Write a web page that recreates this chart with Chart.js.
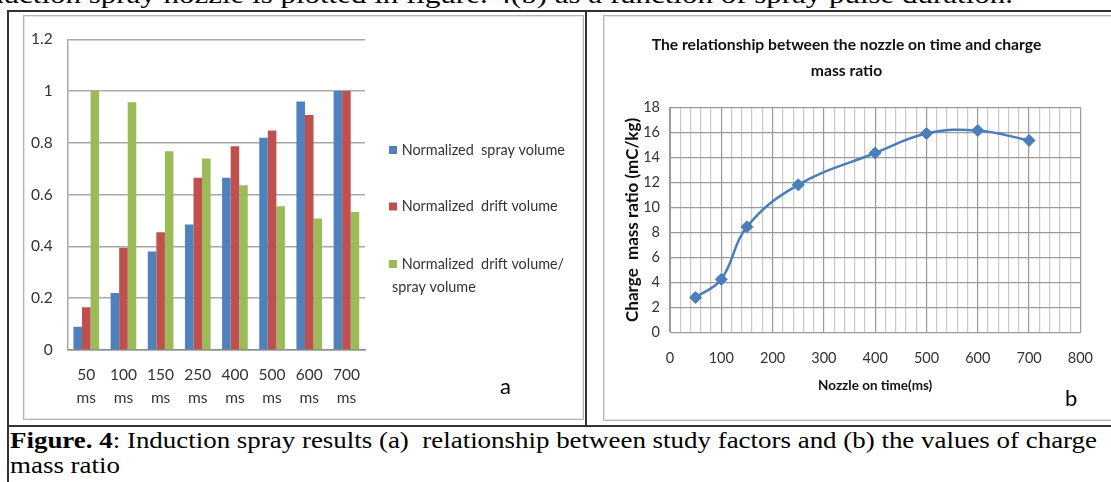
<!DOCTYPE html>
<html>
<head>
<meta charset="utf-8">
<script src="https://cdn.jsdelivr.net/npm/chart.js@4.4.1/dist/chart.umd.min.js"></script>
<style>
  html, body { margin: 0; padding: 0; background: #fff; }
  body { width: 1111px; height: 482px; position: relative; overflow: hidden; }
  .abs { position: absolute; }
  .serif { font-family: 'Liberation Serif', 'Times New Roman', serif; color: #000; white-space: nowrap; transform-origin: 0 0; }
  .box { position: absolute; border: 1px solid #b4b4b4; box-shadow: inset 0 0 0 1px #e6e6e6; background: #fff; }
  .hline { position: absolute; height: 2px; background: #333; }
  .vline { position: absolute; width: 2px; background: #333; }
  .panel { position: absolute; font-family: Lato, 'Open Sans', sans-serif; font-size: 22px; color: #000; }
</style>
</head>
<body>
<!-- running text above the figure (cut off at the top) -->
<div id="topText" class="abs serif" style="left:-36px; top:-18px; font-size:26px; line-height:26px;">induction spray nozzle is plotted in figure. 4(b) as a function of spray pulse duration.</div>

<!-- table frame -->
<div class="hline" style="left:8px; top:10px; width:1103px;"></div>
<div class="hline" style="left:8px; top:425px; width:1103px;"></div>
<div class="vline" style="left:7px; top:10px; height:472px;"></div>
<div class="vline" style="left:585px; top:10px; height:416px;"></div>

<!-- chart boxes -->
<div class="box" style="left:23px; top:15px; width:559px; height:403px;"></div>
<div class="box" style="left:603px; top:15px; width:510px; height:404px;"></div>

<canvas id="chartA" class="abs" width="560" height="404" style="left:23px; top:15px;"></canvas>
<canvas id="chartB" class="abs" width="507" height="405" style="left:603px; top:15px;"></canvas>

<div class="panel" style="left:500px; top:372px;">a</div>
<div class="panel" style="left:1065px; top:384px;">b</div>

<!-- caption -->
<div id="cap1" class="abs serif" style="left:10px; top:428px; font-size:23px; line-height:26px;"><b>Figure. 4</b>: Induction spray results (a)&nbsp; relationship between study factors and (b) the values of charge</div>
<div id="cap2" class="abs serif" style="left:10px; top:453px; font-size:23px; line-height:26px;">mass ratio</div>

<script>
// ---------------- data: chart (a) ----------------
const categories = ['50 ms', '100 ms', '150 ms', '250 ms', '400 ms', '500 ms', '600 ms', '700 ms'];
const sprayVolume = [0.09, 0.22, 0.38, 0.485, 0.665, 0.82, 0.96, 1.0];
const driftVolume = [0.165, 0.395, 0.455, 0.665, 0.787, 0.848, 0.908, 1.0];
const driftPerSpray = [1.0, 0.957, 0.768, 0.74, 0.636, 0.555, 0.508, 0.533];
const seriesNames = ['Normalized  spray volume', 'Normalized  drift volume', 'Normalized  drift volume/ spray volume'];
const yTicksA = [0, 0.2, 0.4, 0.6, 0.8, 1, 1.2];

// ---------------- data: chart (b) ----------------
const nozzleOnTime = [50, 100, 150, 250, 400, 500, 600, 700];
const chargeMassRatio = [2.8, 4.25, 8.45, 11.8, 14.35, 15.9, 16.15, 15.35];
const titleB = ['The relationship between the nozzle on time and charge', 'mass ratio'];
const xTitleB = 'Nozzle on time(ms)';
const yTitleB = 'Charge  mass ratio (mC/kg)';

const FONT = "Lato, 'Open Sans', sans-serif";
const colors = ['#4F81BD', '#C0504D', '#9BBB59'];

// font size that makes a text reach a target width
const mctx = document.createElement('canvas').getContext('2d');
function sizeFor(text, target, weight) {
  mctx.font = (weight || 'normal') + ' 100px ' + FONT;
  return Math.round(100 * target / mctx.measureText(text).width * 10) / 10;
}
const legendSize = sizeFor('Normalized  spray volume', 163);
const tickSizeA = 15.5;
const tickSizeB = 14.5;
const titleSizeB = sizeFor(titleB[0], 390, 'bold');
const xTitleSize = sizeFor(xTitleB, 114, 'bold');
const yTitleSize = sizeFor(yTitleB, 204, 'bold');

// fit HTML text lines to measured widths
function fitWidth(id, target, scaleFrom) {
  const el = document.getElementById(id);
  const w = el.getBoundingClientRect().width;
  const s = scaleFrom || target / w;
  el.style.transform = 'scaleX(' + s + ')';
  return s;
}
const capScale = fitWidth('cap1', 1087);
fitWidth('cap2', 0, capScale);
fitWidth('topText', 1049);

// ---------- custom legend for chart (a) ----------
const legendA = {
  id: 'legendA',
  afterDraw(chart) {
    const ctx = chart.ctx;
    const rows = [135, 191.5, 249];
    ctx.save();
    ctx.font = legendSize + 'px ' + FONT;
    ctx.textBaseline = 'middle';
    chart.data.datasets.forEach((ds, i) => {
      const y = rows[i];
      ctx.fillStyle = ds.backgroundColor;
      ctx.fillRect(366, y - 4, 8, 8);
      ctx.fillStyle = '#333333';
      const lines = ds.label.split('/ ').map((l, k, a) => k < a.length - 1 ? l + '/' : l);
      lines.forEach((l, k) => ctx.fillText(l, k === 0 ? 378.7 : 369, y + k * 23));
    });
    ctx.restore();
  }
};

new Chart(document.getElementById('chartA'), {
  type: 'bar',
  data: {
    labels: categories,
    datasets: [
      { label: seriesNames[0], data: sprayVolume, backgroundColor: colors[0] },
      { label: seriesNames[1], data: driftVolume, backgroundColor: colors[1] },
      { label: seriesNames[2], data: driftPerSpray, backgroundColor: colors[2] }
    ]
  },
  options: {
    responsive: false,
    animation: false,
    layout: { padding: { left: 0, top: 19.3, right: 218, bottom: 0 } },
    datasets: { bar: { categoryPercentage: 0.69, barPercentage: 1.0 } },
    plugins: { legend: { display: false }, tooltip: { enabled: false } },
    scales: {
      x: {
        grid: { display: false, drawTicks: false },
        border: { display: true, color: '#8c8c8c', width: 1.5 },
        ticks: {
          color: '#333333', padding: 13.5, autoSkip: false, maxRotation: 0,
          font: { family: FONT, size: tickSizeA, lineHeight: 23 / tickSizeA },
          callback: function (v, i) { return categories[i].split(' '); }
        },
        afterFit(s) { s.height = 69; }
      },
      y: {
        min: 0, max: 1.2,
        afterBuildTicks(s) { s.ticks = yTicksA.map(v => ({ value: v })); },
        grid: { color: '#a8a8a8', lineWidth: 1.5, drawTicks: false },
        border: { display: true, color: '#a8a8a8', width: 1.5 },
        ticks: {
          color: '#333333', padding: 15,
          font: { family: FONT, size: tickSizeA },
          callback: v => String(v)
        },
        afterFit(s) { s.width = 44.7; }
      }
    }
  },
  plugins: [legendA]
});

new Chart(document.getElementById('chartB'), {
  type: 'line',
  data: {
    datasets: [{
      label: 'Charge mass ratio',
      data: nozzleOnTime.map((t, i) => ({ x: t, y: chargeMassRatio[i] })),
      borderColor: '#4A7EBB',
      backgroundColor: '#4A7EBB',
      borderWidth: 2.5,
      tension: 0.4,
      pointStyle: 'rectRot',
      pointRadius: 6,
      pointBorderWidth: 1
    }]
  },
  options: {
    responsive: false,
    animation: false,
    layout: { padding: { left: 0, top: 0, right: 20, bottom: 0 } },
    plugins: {
      legend: { display: false },
      tooltip: { enabled: false },
      title: {
        display: true, text: titleB, color: '#111111',
        font: { family: FONT, size: titleSizeB, weight: 'bold', lineHeight: 25.5 / titleSizeB },
        padding: { top: 17.3, bottom: 24 }
      }
    },
    scales: {
      x: {
        type: 'linear', min: 0, max: 800,
        grid: {
          drawTicks: false,
          color: c => (c.tick && c.tick.value % 100 === 0) ? '#9a9a9a' : '#c8c8c8',
          lineWidth: 1.2
        },
        border: { display: true, color: '#9a9a9a' },
        ticks: {
          stepSize: 20, autoSkip: false, maxRotation: 0, color: '#333333', padding: 17,
          font: { family: FONT, size: tickSizeB },
          callback: v => (v % 100 === 0 ? String(v) : '')
        },
        title: {
          display: true, text: xTitleB, color: '#111111',
          font: { family: FONT, size: xTitleSize, weight: 'bold', lineHeight: 1.2 },
          padding: { top: 0, bottom: 26.5 }
        },
        afterFit(s) { s.height = 87.5; }
      },
      y: {
        min: 0, max: 18,
        grid: { drawTicks: false, color: '#9a9a9a', lineWidth: 1.2 },
        border: { display: true, color: '#9a9a9a' },
        ticks: {
          stepSize: 2, color: '#333333', padding: 10,
          font: { family: FONT, size: tickSizeB }
        },
        title: {
          display: true, text: yTitleB, color: '#111111',
          font: { family: FONT, size: yTitleSize, weight: 'bold', lineHeight: 1.2 },
          padding: { top: 19.5, bottom: 0 }
        },
        afterFit(s) { s.width = 67; }
      }
    }
  }
});
</script>
</body>
</html>
